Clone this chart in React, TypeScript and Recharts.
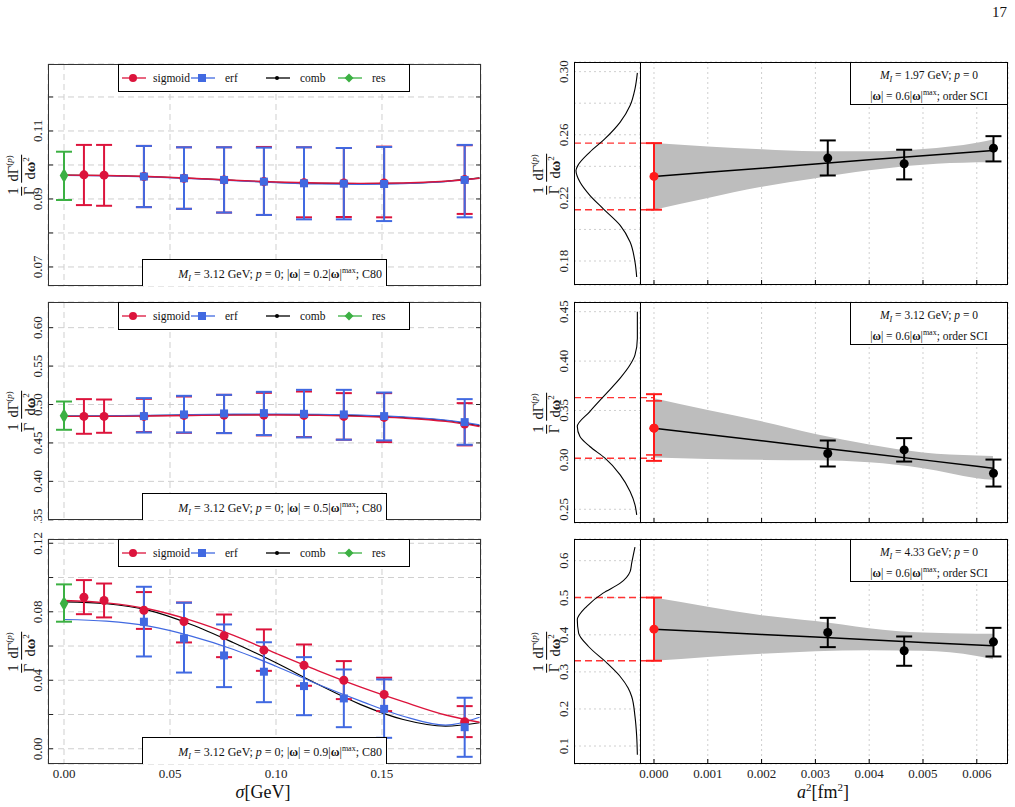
import React from "react";
import {
  ComposedChart,
  LineChart,
  Line,
  Scatter,
  ErrorBar,
  Area,
  XAxis,
  YAxis,
  CartesianGrid,
  ReferenceLine,
} from "recharts";

const FONT = '"Liberation Serif", "DejaVu Serif", serif';
const RED = "#dc143c";
const BLUE = "#4169e1";
const GREEN = "#3cb043";
const FIT_RED = "#ff1a1a";

// ---------- left column: sigma scan ----------
const sigmaTicks = [0, 0.05, 0.1, 0.15];
const sigmaSig = [0.0094, 0.0189, 0.0377, 0.0566, 0.0755, 0.0943, 0.1132, 0.132, 0.151, 0.189];
const sigmaErf = [0.0377, 0.0566, 0.0755, 0.0943, 0.1132, 0.132, 0.151, 0.189];
const sigmaCurve = [0, 0.02, 0.04, 0.06, 0.08, 0.1, 0.12, 0.14, 0.16, 0.18, 0.196];

// |w| = 0.2 |w|max
const w2Res = [0.0969, 0.0897, 0.1039];
const w2Sig = [0.0971, 0.097, 0.0966, 0.0961, 0.0956, 0.0951, 0.0948, 0.0947, 0.0947, 0.0957];
const w2SigLo = [0.0882, 0.088, 0.0876, 0.0871, 0.086, 0.0853, 0.0846, 0.0847, 0.0846, 0.0856];
const w2SigHi = [0.1059, 0.1059, 0.1056, 0.1052, 0.1052, 0.1053, 0.1052, 0.105, 0.1054, 0.1058];
const w2Erf = [0.0966, 0.0961, 0.0956, 0.0951, 0.0946, 0.0945, 0.0944, 0.0956];
const w2ErfLo = [0.0876, 0.0871, 0.086, 0.0853, 0.084, 0.084, 0.0835, 0.0846];
const w2ErfHi = [0.1056, 0.1052, 0.1052, 0.1051, 0.1052, 0.105, 0.1053, 0.1059];
const w2SigCurve = [0.097, 0.0969, 0.0966, 0.0961, 0.0955, 0.095, 0.0947, 0.0946, 0.0947, 0.0952, 0.0961];
const w2ErfCurve = [0.0969, 0.0968, 0.0965, 0.096, 0.0954, 0.0948, 0.0944, 0.0943, 0.0945, 0.0951, 0.0961];
const w2CombCurve = [0.097, 0.0969, 0.0966, 0.0961, 0.0955, 0.0949, 0.0946, 0.0945, 0.0946, 0.0952, 0.0962];

// |w| = 0.5 |w|max
const w5Res = [0.4853, 0.4671, 0.5039];
const w5Sig = [0.4845, 0.4845, 0.4845, 0.4858, 0.4862, 0.4862, 0.4858, 0.4845, 0.4832, 0.4745];
const w5SigLo = [0.4619, 0.4632, 0.4641, 0.4632, 0.4628, 0.4598, 0.4576, 0.4542, 0.4511, 0.4468];
const w5SigHi = [0.507, 0.5065, 0.5074, 0.5104, 0.5126, 0.5152, 0.5169, 0.5148, 0.5148, 0.5018];
const w5Erf = [0.4849, 0.4871, 0.4884, 0.4888, 0.4879, 0.4871, 0.4849, 0.4771];
const w5ErfLo = [0.4636, 0.4636, 0.4628, 0.4602, 0.4572, 0.4542, 0.4533, 0.4476];
const w5ErfHi = [0.5083, 0.5113, 0.5126, 0.5165, 0.5191, 0.5191, 0.5156, 0.507];
const w5SigCurve = [0.4845, 0.4846, 0.4851, 0.4857, 0.4862, 0.4863, 0.4858, 0.4846, 0.4823, 0.478, 0.4714];
const w5ErfCurve = [0.485, 0.4853, 0.486, 0.4868, 0.4874, 0.4876, 0.4873, 0.4862, 0.4838, 0.4797, 0.4736];
const w5CombCurve = [0.4848, 0.485, 0.4856, 0.4864, 0.4869, 0.487, 0.4866, 0.4855, 0.4832, 0.4792, 0.4725];

// |w| = 0.9 |w|max
const w9Res = [0.0848, 0.0742, 0.096];
const w9Sig = [0.0885, 0.0866, 0.0809, 0.0743, 0.066, 0.0576, 0.0488, 0.04, 0.0317, 0.0158];
const w9SigLo = [0.0786, 0.0767, 0.07, 0.0621, 0.0535, 0.0455, 0.0368, 0.029, 0.022, 0.0068];
const w9SigHi = [0.0985, 0.0965, 0.0915, 0.0854, 0.0784, 0.0697, 0.0609, 0.0512, 0.0415, 0.0249];
const w9Erf = [0.0742, 0.0644, 0.0545, 0.045, 0.0366, 0.0294, 0.0233, 0.0126];
const w9ErfLo = [0.0539, 0.0445, 0.036, 0.0272, 0.0196, 0.0126, 0.0064, -0.0047];
const w9ErfHi = [0.0946, 0.0853, 0.0726, 0.0622, 0.0535, 0.0463, 0.0405, 0.0298];
const w9SigCurve = [0.0866, 0.0852, 0.0816, 0.075, 0.0662, 0.0557, 0.0455, 0.036, 0.0275, 0.0197, 0.0155];
const w9ErfCurve = [0.0755, 0.0745, 0.0716, 0.0658, 0.058, 0.0482, 0.0375, 0.0278, 0.019, 0.0138, 0.0184];
const w9CombCurve = [0.0858, 0.0847, 0.0808, 0.0726, 0.0619, 0.0502, 0.0375, 0.0258, 0.0171, 0.0132, 0.0152];

// ---------- right column: continuum extrapolation ----------
const a2Ticks = [0, 0.001, 0.002, 0.003, 0.004, 0.005, 0.006];
const a2Lat = [0.00323, 0.00465, 0.00631];
const a2Band = [0, 0.001, 0.002, 0.003, 0.004, 0.005, 0.006, 0.0063];

// M_I = 1.97 GeV
const m1Val = [0.2452, 0.2416, 0.2515];
const m1Lo = [0.2342, 0.2317, 0.2431];
const m1Hi = [0.2564, 0.2505, 0.2591];
const m1Cont = [0.2336, 0.2125, 0.2547];
const m1Fit = [0.2336, 0.2362, 0.2388, 0.2415, 0.2441, 0.2467, 0.2493, 0.2501];
const m1BandLo = [0.2125, 0.22, 0.227, 0.2325, 0.2375, 0.241, 0.2425, 0.2427];
const m1BandHi = [0.2547, 0.2526, 0.2508, 0.2495, 0.2495, 0.251, 0.255, 0.257];
const m1DensV = [0.1699, 0.1794, 0.192, 0.2026, 0.2132, 0.2216, 0.23, 0.2374, 0.2406, 0.249, 0.2575, 0.268, 0.2785, 0.2891, 0.2992];
const m1Dens = [0.05, 0.076, 0.15, 0.3, 0.56, 0.76, 0.91, 0.97, 0.94, 0.76, 0.53, 0.3, 0.15, 0.076, 0.04];

// M_I = 3.12 GeV
const m2Val = [0.3064, 0.3101, 0.2865];
const m2Lo = [0.2933, 0.2983, 0.273];
const m2Hi = [0.3196, 0.322, 0.3003];
const m2Cont = [0.3321, 0.299, 0.3665];
const m2ContInner = [0.3321, 0.305, 0.3597];
const m2Dash = [0.3017, 0.363];
const m2Fit = [0.3321, 0.3257, 0.3193, 0.3128, 0.3064, 0.3, 0.2936, 0.2916];
const m2BandLo = [0.3024, 0.301, 0.3, 0.2995, 0.2975, 0.2915, 0.2815, 0.2798];
const m2BandHi = [0.3624, 0.3505, 0.339, 0.3262, 0.3155, 0.3075, 0.3045, 0.304];
const m2DensV = [0.2443, 0.2545, 0.2679, 0.2848, 0.3017, 0.3135, 0.3236, 0.3337, 0.3489, 0.3658, 0.3827, 0.3962, 0.4063, 0.4232, 0.45];
const m2Dens = [0.05, 0.076, 0.15, 0.3, 0.53, 0.76, 0.91, 0.95, 0.76, 0.53, 0.3, 0.15, 0.076, 0.04, 0.04];

// M_I = 4.33 GeV
const m3Val = [0.4063, 0.357, 0.3811];
const m3Lo = [0.3668, 0.3165, 0.3416];
const m3Hi = [0.4458, 0.3955, 0.4188];
const m3Cont = [0.4153, 0.33, 0.5005];
const m3Fit = [0.4153, 0.4082, 0.401, 0.3939, 0.3867, 0.3796, 0.3725, 0.3703];
const m3BandLo = [0.33, 0.3405, 0.349, 0.356, 0.3585, 0.357, 0.343, 0.3344];
const m3BandHi = [0.5005, 0.476, 0.453, 0.437, 0.418, 0.406, 0.403, 0.4027];
const m3DensV = [0.0765, 0.1259, 0.1798, 0.2337, 0.2563, 0.2876, 0.3237, 0.3685, 0.4045, 0.4404, 0.4763, 0.5124, 0.5393, 0.5706, 0.5932, 0.6364];
const m3Dens = [0.04, 0.05, 0.076, 0.126, 0.18, 0.3, 0.5, 0.78, 0.93, 0.95, 0.81, 0.56, 0.3, 0.15, 0.126, 0.076];

const legendNames = ["sigmoid", "erf", "comb", "res"];
const legendColors = [RED, BLUE, "#000", GREEN];

const toPts = (xs: number[], ys: number[], lo: number[], hi: number[]) =>
  xs.map((x, i) => ({ x, y: ys[i], err: [ys[i] - lo[i], hi[i] - ys[i]] }));
const toCurve = (xs: number[], ys: number[]) => xs.map((x, i) => ({ x, y: ys[i] }));
const single = (x: number, v: number[]) => [{ x, y: v[0], err: [v[0] - v[1], v[2] - v[0]] }];

function Frac({ num, den }: { num: React.ReactNode; den: React.ReactNode }) {
  return (
    <span style={{ display: "inline-flex", flexDirection: "column", alignItems: "center", verticalAlign: "middle", margin: "0 2px" }}>
      <span style={{ borderBottom: "1px solid #000", padding: "0 1px", lineHeight: 1.05 }}>{num}</span>
      <span style={{ lineHeight: 1.1 }}>{den}</span>
    </span>
  );
}

function YTitle({ cx, cy }: { cx: number; cy: number }) {
  return (
    <div
      style={{
        position: "absolute",
        left: cx,
        top: cy,
        transform: "translate(-50%, -50%) rotate(-90deg)",
        whiteSpace: "nowrap",
        fontSize: 14.5,
        color: "#111",
      }}
    >
      <Frac num="1" den="Γ" />
      <Frac
        num={<span>dΓ<sup style={{ fontSize: 9 }}>(<i>p</i>)</sup></span>}
        den={<span>d<b>ω</b><sup style={{ fontSize: 9 }}>2</sup></span>}
      />
    </div>
  );
}

function LegendBox({ top }: { top: number }) {
  const lineX = [3, 72, 147, 219];
  return (
    <div
      style={{
        position: "absolute",
        left: 118,
        top,
        width: 292,
        height: 28,
        border: "1px solid #000",
        background: "#fff",
        boxSizing: "border-box",
        fontSize: 11.5,
      }}
    >
      {legendNames.map((name, i) => {
        const c = legendColors[i];
        return (
          <div key={name} style={{ position: "absolute", left: lineX[i], top: 7, display: "flex", alignItems: "center" }}>
            <svg width={24} height={12}>
              <line x1={0} x2={24} y1={6} y2={6} stroke={c} strokeWidth={1.3} />
              {i === 0 && <circle cx={11} cy={6} r={4} fill={c} />}
              {i === 1 && <rect x={7} y={2} width={8} height={8} fill={c} />}
              {i === 2 && <circle cx={11} cy={6} r={2} fill={c} />}
              {i === 3 && <polygon points="11,1.5 15.5,6 11,10.5 6.5,6" fill={c} />}
            </svg>
            <span style={{ marginLeft: i === 0 ? 7 : 10 }}>{name}</span>
          </div>
        );
      })}
    </div>
  );
}

type LeftProps = {
  top: number;
  bottom: number;
  domain: [number, number];
  ticks: number[];
  labelled: number[];
  omega: string;
  res: number[];
  sig: number[];
  sigLo: number[];
  sigHi: number[];
  erf: number[];
  erfLo: number[];
  erfHi: number[];
  sigCurve: number[];
  erfCurve: number[];
  combCurve: number[];
  last?: boolean;
  clip?: boolean;
};

function LeftPanel(p: LeftProps) {
  const L = 48;
  const R = 481;
  const W = R - L;
  const H = p.bottom - p.top;
  const xh = p.last ? 30 : p.clip ? 3 : 1;

  const yTick = (props: any) => {
    const { x, y, payload } = props;
    const v = payload.value;
    const show = p.labelled.some((l) => Math.abs(l - v) < 1e-9);
    const lx = x - 10;
    return (
      <g>
        <line x1={x} x2={x + 5} y1={y} y2={y} stroke="#222" />
        <line x1={x + W - 5} x2={x + W} y1={y} y2={y} stroke="#222" />
        {show && (
          <text x={lx} y={y} transform={`rotate(-90 ${lx} ${y})`} textAnchor="middle" dominantBaseline="central" fontSize={13} fontFamily={FONT} fill="#222">
            {v.toFixed(2)}
          </text>
        )}
      </g>
    );
  };
  const xTick = (props: any) => {
    const { x, y, payload } = props;
    if (!p.last) return <g />;
    return (
      <text x={x} y={y + 9} textAnchor="middle" dominantBaseline="central" fontSize={13} fontFamily={FONT} fill="#222">
        {payload.value.toFixed(2)}
      </text>
    );
  };

  return (
    <>
      <div className={p.clip ? "clipped" : undefined} style={{ position: "absolute", left: 0, top: p.top - 5 }}>
        <ComposedChart width={R + 5} height={H + 5 + xh} margin={{ top: 5, right: 5, bottom: 0, left: 0 }}>
          <CartesianGrid stroke="#cfcfcf" strokeDasharray="6 4" />
          <XAxis
            type="number"
            dataKey="x"
            domain={[-0.00755, 0.1967]}
            allowDataOverflow
            ticks={sigmaTicks}
            interval={0}
            tick={xTick}
            tickSize={0}
            tickMargin={0}
            axisLine={false}
            tickLine={false}
            height={xh}
          />
          <YAxis
            type="number"
            dataKey="y"
            domain={p.domain}
            allowDataOverflow
            ticks={p.ticks}
            interval={0}
            tick={yTick}
            tickSize={0}
            tickMargin={0}
            axisLine={false}
            tickLine={false}
            width={L}
          />
          <Line data={toCurve(sigmaCurve, p.combCurve)} dataKey="y" type="monotone" stroke="#000" strokeWidth={1.2} dot={false} isAnimationActive={false} />
          <Line data={toCurve(sigmaCurve, p.erfCurve)} dataKey="y" type="monotone" stroke={BLUE} strokeWidth={1.2} dot={false} isAnimationActive={false} />
          <Line data={toCurve(sigmaCurve, p.sigCurve)} dataKey="y" type="monotone" stroke={RED} strokeWidth={1.4} dot={false} isAnimationActive={false} />
          <Scatter data={single(0, p.res)} fill={GREEN} shape="diamond" isAnimationActive={false}>
            <ErrorBar dataKey="err" direction="y" width={8} stroke={GREEN} strokeWidth={2} isAnimationActive={false} />
          </Scatter>
          <Scatter data={toPts(sigmaSig, p.sig, p.sigLo, p.sigHi)} fill={RED} shape="circle" isAnimationActive={false}>
            <ErrorBar dataKey="err" direction="y" width={8} stroke={RED} strokeWidth={2} isAnimationActive={false} />
          </Scatter>
          <Scatter data={toPts(sigmaErf, p.erf, p.erfLo, p.erfHi)} fill={BLUE} shape="square" isAnimationActive={false}>
            <ErrorBar dataKey="err" direction="y" width={8} stroke={BLUE} strokeWidth={2} isAnimationActive={false} />
          </Scatter>
        </ComposedChart>
      </div>
      <div
        style={{
          position: "absolute",
          left: L,
          top: p.top,
          width: W,
          height: H,
          border: "1.5px solid #333",
          boxSizing: "border-box",
          pointerEvents: "none",
        }}
      />
      <LegendBox top={p.top} />
      <div
        style={{
          position: "absolute",
          left: 142,
          top: p.bottom - 27,
          width: 245,
          height: 27,
          border: "1px solid #000",
          borderBottom: "none",
          background: "#fff",
          boxSizing: "border-box",
          fontSize: 12,
          textAlign: "right",
          paddingRight: 4,
          paddingTop: 6,
          whiteSpace: "nowrap",
        }}
      >
        <i>M</i>
        <sub style={{ fontSize: 8 }}><i>I</i></sub> = 3.12 GeV; <i>p</i> = 0; |<b>ω</b>| = {p.omega}|<b>ω</b>|
        <sup style={{ fontSize: 8 }}>max</sup>; C80
      </div>
      <YTitle cx={22} cy={(p.top + p.bottom) / 2} />
    </>
  );
}

type RightProps = {
  top: number;
  bottom: number;
  domain: [number, number];
  ticks: number[];
  labelled: number[];
  digits: number;
  mass: string;
  val: number[];
  lo: number[];
  hi: number[];
  cont: number[];
  contInner?: number[];
  dash: number[];
  fit: number[];
  bandLo: number[];
  bandHi: number[];
  densV: number[];
  dens: number[];
  last?: boolean;
};

function RightPanel(p: RightProps) {
  const SL = 574;
  const SR = 640;
  const MR = 1008;
  const H = p.bottom - p.top;
  const xh = p.last ? 30 : 1;
  const xMin = -0.00026;
  const band = a2Band.map((x, i) => ({ x, fit: p.fit[i], band: [p.bandLo[i], p.bandHi[i]] }));
  const density = p.densV.map((v, i) => ({ v, d: p.dens[i] }));

  const yTick = (props: any) => {
    const { x, y, payload } = props;
    const v = payload.value;
    const show = p.labelled.some((l) => Math.abs(l - v) < 1e-9);
    const lx = x - 10;
    if (!show) return <g />;
    return (
      <text x={lx} y={y} transform={`rotate(-90 ${lx} ${y})`} textAnchor="middle" dominantBaseline="central" fontSize={13} fontFamily={FONT} fill="#222">
        {v.toFixed(p.digits)}
      </text>
    );
  };
  const xTick = (props: any) => {
    const { x, y, payload } = props;
    return (
      <g>
        <line x1={x} x2={x} y1={y} y2={y - 5} stroke="#000" />
        {p.last && (
          <text x={x} y={y + 9} textAnchor="middle" dominantBaseline="central" fontSize={13} fontFamily={FONT} fill="#222">
            {payload.value.toFixed(3)}
          </text>
        )}
      </g>
    );
  };

  return (
    <>
      <div style={{ position: "absolute", left: SL - 40, top: p.top - 5 }}>
        <LineChart layout="vertical" width={40 + SR - SL} height={H + 6} margin={{ top: 5, right: 0, bottom: 0, left: 0 }} data={density}>
          <CartesianGrid vertical={false} stroke="#cfcfcf" strokeDasharray="2 3" />
          <XAxis type="number" domain={[0, 1]} reversed allowDataOverflow tick={false} axisLine={false} tickLine={false} height={1} />
          <YAxis
            type="number"
            dataKey="v"
            domain={p.domain}
            reversed
            allowDataOverflow
            ticks={p.ticks}
            interval={0}
            tick={yTick}
            tickSize={0}
            tickMargin={0}
            axisLine={false}
            tickLine={false}
            width={40}
          />
          {p.dash.map((d) => (
            <ReferenceLine key={d} y={d} stroke="#ff3333" strokeWidth={1.4} strokeDasharray="7 4" />
          ))}
          <Line dataKey="d" type="monotone" stroke="#000" strokeWidth={1.1} dot={false} isAnimationActive={false} />
        </LineChart>
      </div>
      <div style={{ position: "absolute", left: SR - 1, top: p.top - 5 }}>
        <ComposedChart width={1 + MR - SR + 5} height={H + 5 + xh} margin={{ top: 5, right: 5, bottom: 0, left: 0 }} data={band}>
          <CartesianGrid stroke="#cfcfcf" strokeDasharray="2 3" />
          <XAxis
            type="number"
            dataKey="x"
            domain={[xMin, 0.00658]}
            allowDataOverflow
            ticks={a2Ticks}
            interval={0}
            tick={xTick}
            tickSize={0}
            tickMargin={0}
            axisLine={false}
            tickLine={false}
            height={xh}
          />
          <YAxis type="number" dataKey="y" domain={p.domain} allowDataOverflow ticks={p.ticks} interval={0} tick={false} axisLine={false} tickLine={false} width={1} />
          <Area dataKey="band" type="monotone" stroke="none" fill="#bdbdbd" fillOpacity={1} isAnimationActive={false} />
          {p.dash.map((d) => (
            <ReferenceLine
              key={d}
              segment={[
                { x: xMin, y: d },
                { x: 0, y: d },
              ]}
              stroke="#ff3333"
              strokeWidth={1.4}
              strokeDasharray="7 4"
            />
          ))}
          <Line dataKey="fit" type="linear" stroke="#000" strokeWidth={1.5} dot={false} isAnimationActive={false} />
          <Scatter data={toPts(a2Lat, p.val, p.lo, p.hi)} fill="#000" shape="circle" isAnimationActive={false}>
            <ErrorBar dataKey="err" direction="y" width={8} stroke="#000" strokeWidth={2} isAnimationActive={false} />
          </Scatter>
          <Scatter data={single(0, p.cont)} fill={FIT_RED} shape="circle" isAnimationActive={false}>
            <ErrorBar dataKey="err" direction="y" width={8} stroke={FIT_RED} strokeWidth={2} isAnimationActive={false} />
          </Scatter>
          {p.contInner && (
            <Scatter data={single(0, p.contInner)} fill={FIT_RED} shape="circle" isAnimationActive={false}>
              <ErrorBar dataKey="err" direction="y" width={8} stroke={FIT_RED} strokeWidth={1.5} isAnimationActive={false} />
            </Scatter>
          )}
        </ComposedChart>
      </div>
      <div
        style={{
          position: "absolute",
          left: SL,
          top: p.top,
          width: SR - SL + 1,
          height: H,
          border: "1px solid #000",
          boxSizing: "border-box",
          pointerEvents: "none",
        }}
      />
      <div
        style={{
          position: "absolute",
          left: SR,
          top: p.top,
          width: MR - SR,
          height: H,
          border: "1px solid #000",
          borderLeft: "1.5px solid #000",
          boxSizing: "border-box",
          pointerEvents: "none",
        }}
      />
      <div
        style={{
          position: "absolute",
          left: 850,
          top: p.top,
          width: MR - 850,
          height: 43,
          border: "1px solid #000",
          background: "#fff",
          boxSizing: "border-box",
          fontSize: 11.5,
          textAlign: "center",
          paddingTop: 6,
          lineHeight: "13px",
          whiteSpace: "nowrap",
        }}
      >
        <div>
          <i>M</i>
          <sub style={{ fontSize: 8 }}><i>I</i></sub> = {p.mass} GeV; <i>p</i> = 0
        </div>
        <div>
          |<b>ω</b>| = 0.6|<b>ω</b>|<sup style={{ fontSize: 8 }}>max</sup>; order SCI
        </div>
      </div>
      <YTitle cx={547} cy={(p.top + p.bottom) / 2} />
    </>
  );
}

export default function App() {
  return (
    <div
      style={{
        position: "absolute",
        left: 0,
        top: 0,
        width: 1015,
        height: 807,
        background: "#fff",
        fontFamily: FONT,
        color: "#111",
        overflow: "hidden",
      }}
    >
      <style>{`.recharts-surface { overflow: visible; } .clipped .recharts-surface { overflow: hidden; }`}</style>
      <div style={{ position: "absolute", left: 992, top: 4, fontSize: 15 }}>17</div>

      <LeftPanel
        top={64}
        bottom={286}
        domain={[0.0644, 0.1297]}
        ticks={[0.07, 0.08, 0.09, 0.1, 0.11, 0.12]}
        labelled={[0.07, 0.09, 0.11]}
        omega="0.2"
        res={w2Res}
        sig={w2Sig}
        sigLo={w2SigLo}
        sigHi={w2SigHi}
        erf={w2Erf}
        erfLo={w2ErfLo}
        erfHi={w2ErfHi}
        sigCurve={w2SigCurve}
        erfCurve={w2ErfCurve}
        combCurve={w2CombCurve}
      />
      <LeftPanel
        top={302}
        bottom={520}
        domain={[0.3497, 0.6334]}
        ticks={[0.35, 0.4, 0.45, 0.5, 0.55, 0.6]}
        labelled={[0.35, 0.4, 0.45, 0.5, 0.55, 0.6]}
        omega="0.5"
        res={w5Res}
        sig={w5Sig}
        sigLo={w5SigLo}
        sigHi={w5SigHi}
        erf={w5Erf}
        erfLo={w5ErfLo}
        erfHi={w5ErfHi}
        sigCurve={w5SigCurve}
        erfCurve={w5ErfCurve}
        combCurve={w5CombCurve}
        clip
      />
      <LeftPanel
        top={539}
        bottom={764}
        domain={[-0.0089, 0.1225]}
        ticks={[0, 0.02, 0.04, 0.06, 0.08, 0.1, 0.12]}
        labelled={[0, 0.04, 0.08, 0.12]}
        omega="0.9"
        res={w9Res}
        sig={w9Sig}
        sigLo={w9SigLo}
        sigHi={w9SigHi}
        erf={w9Erf}
        erfLo={w9ErfLo}
        erfHi={w9ErfHi}
        sigCurve={w9SigCurve}
        erfCurve={w9ErfCurve}
        combCurve={w9CombCurve}
        last
      />

      <RightPanel
        top={62}
        bottom={285}
        domain={[0.1648, 0.3061]}
        ticks={[0.18, 0.2, 0.22, 0.24, 0.26, 0.28, 0.3]}
        labelled={[0.18, 0.22, 0.26, 0.3]}
        digits={2}
        mass="1.97"
        val={m1Val}
        lo={m1Lo}
        hi={m1Hi}
        cont={m1Cont}
        dash={[m1Cont[1], m1Cont[2]]}
        fit={m1Fit}
        bandLo={m1BandLo}
        bandHi={m1BandHi}
        densV={m1DensV}
        dens={m1Dens}
      />
      <RightPanel
        top={302}
        bottom={523}
        domain={[0.2361, 0.4598]}
        ticks={[0.25, 0.3, 0.35, 0.4, 0.45]}
        labelled={[0.25, 0.3, 0.35, 0.4, 0.45]}
        digits={2}
        mass="3.12"
        val={m2Val}
        lo={m2Lo}
        hi={m2Hi}
        cont={m2Cont}
        contInner={m2ContInner}
        dash={m2Dash}
        fit={m2Fit}
        bandLo={m2BandLo}
        bandHi={m2BandHi}
        densV={m2DensV}
        dens={m2Dens}
      />
      <RightPanel
        top={539}
        bottom={764}
        domain={[0.0515, 0.6585]}
        ticks={[0.1, 0.2, 0.3, 0.4, 0.5, 0.6]}
        labelled={[0.1, 0.2, 0.3, 0.4, 0.5, 0.6]}
        digits={1}
        mass="4.33"
        val={m3Val}
        lo={m3Lo}
        hi={m3Hi}
        cont={m3Cont}
        dash={[m3Cont[1], m3Cont[2]]}
        fit={m3Fit}
        bandLo={m3BandLo}
        bandHi={m3BandHi}
        densV={m3DensV}
        dens={m3Dens}
        last
      />

      <div style={{ position: "absolute", left: 263, top: 792, transform: "translate(-50%, -50%)", fontSize: 18, lineHeight: "18px", whiteSpace: "nowrap" }}>
        <i>σ</i>[GeV]
      </div>
      <div style={{ position: "absolute", left: 823, top: 792, transform: "translate(-50%, -50%)", fontSize: 18, lineHeight: "18px", whiteSpace: "nowrap" }}>
        <i>a</i>
        <sup style={{ fontSize: 11, lineHeight: 0 }}>2</sup>[fm<sup style={{ fontSize: 11, lineHeight: 0 }}>2</sup>]
      </div>
    </div>
  );
}
